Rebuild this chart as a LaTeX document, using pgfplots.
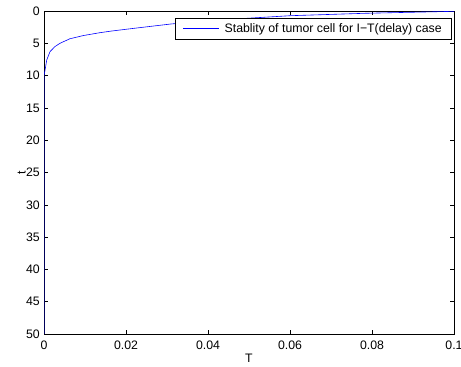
\documentclass[border=0pt]{standalone}
\usepackage{fontspec}
\setmainfont{Liberation Sans}
\usepackage{pgfplots}
\pgfplotsset{compat=1.18}
\begin{document}
\fontsize{12.3bp}{15bp}\selectfont
\begin{tikzpicture}
\useasboundingbox (-44bp,-33bp) rectangle (417bp,334bp);
\begin{axis}[
  at={(0,0)}, anchor=south west,
  scale only axis,
  width=410bp, height=323bp,
  xmin=0, xmax=0.1, ymin=0, ymax=50,
  y dir=reverse,
  xtick={0,0.02,0.04,0.06,0.08,0.1},
  xticklabels={0,0.02,0.04,0.06,0.08,0.1},
  ytick={0,5,10,15,20,25,30,35,40,45,50},
  tick align=inside,
  tick pos=both,
  major tick length=4bp,
  tick style={black, line width=0.5pt},
  axis line style={black, line width=0.6pt},
  /pgf/number format/assume math mode=true,
  ticklabel style={font=\fontsize{12.3bp}{15bp}\selectfont},
  xticklabel style={yshift=-2.5bp},
  xlabel={T}, ylabel={t},
  label style={font=\fontsize{12.3bp}{15bp}\selectfont},
  xlabel style={yshift=4bp},
  ylabel style={yshift=-8bp},
  legend style={at={(1,1)}, anchor=north east, xshift=-2bp, yshift=-7bp,
    line width=0.6pt, inner xsep=8bp, inner ysep=3bp,
    /tikz/every odd column/.append style={column sep=3bp},
    font=\fontsize{12.3bp}{15bp}\selectfont},
  legend cell align=left,
  legend image post style={xscale=2.12, draw=blue, line width=0.7pt},
]
\addplot[blue, line width=0.6pt] table {
x y
0 50
0 10
0.00024 9.2
0.00066 7.6
0.00146 6.3
0.00268 5.5
0.0039 5.0
0.0063 4.3
0.0096 3.8
0.0137 3.35
0.0165 3.1
0.0217 2.7
0.0311 2.0
0.045 1.3
0.06 0.73
0.078 0.36
0.1 0.05
};
\addlegendentry{Stablity of tumor cell for I\textminus T(delay) case}
\end{axis}
\end{tikzpicture}
\end{document}
